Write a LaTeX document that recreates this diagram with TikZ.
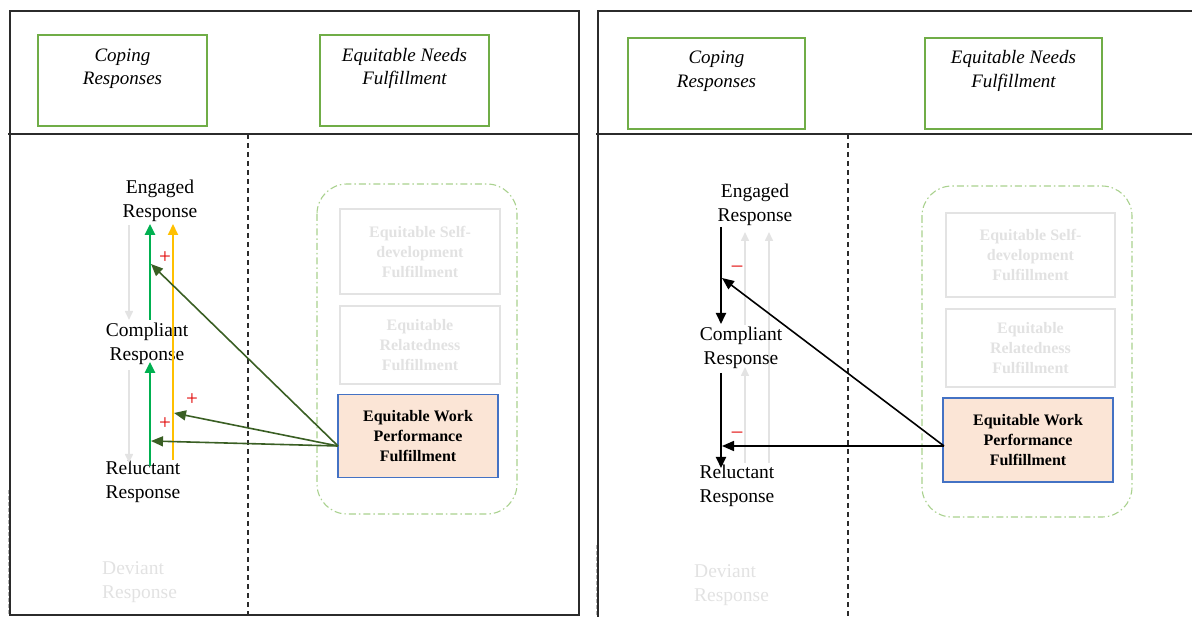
\documentclass[tikz,border=0pt]{standalone}
\usepackage{fontspec}
\setmainfont{Liberation Serif}
\usetikzlibrary{arrows.meta}

\definecolor{frameblk}{HTML}{2B2B2B}
\definecolor{hdrgreen}{HTML}{70AD47}
\definecolor{groupgreen}{HTML}{A9D18E}
\definecolor{boxgray}{HTML}{E3E3E3}
\definecolor{ghostgray}{HTML}{E2E2E2}
\definecolor{peach}{HTML}{FBE5D6}
\definecolor{workblue}{HTML}{4472C4}
\definecolor{brightgreen}{HTML}{00B050}
\definecolor{amber}{HTML}{FFC000}
\definecolor{darkgreen}{HTML}{3A5F24}
\definecolor{signred}{HTML}{E00000}

\tikzset{
  frame/.style={draw=frameblk, line width=1.3pt},
  divider/.style={draw=frameblk, line width=1.2pt, dash pattern=on 5pt off 4pt},
  hdrbox/.style={draw=hdrgreen, line width=1.3pt, minimum width=169pt, minimum height=91pt, inner sep=0pt},
  hdrtext/.style={font=\fontsize{19}{23.5}\selectfont\itshape, align=center, inner sep=0pt},
  resp/.style={font=\fontsize{19.5}{24}\selectfont, align=center, inner sep=0pt},
  ghostresp/.style={font=\fontsize{19.5}{24}\selectfont, align=left, inner sep=0pt,
    anchor=west, text=ghostgray},
  group/.style={draw=groupgreen, line width=1.1pt, rounded corners=30pt,
    dash pattern=on 7pt off 3pt on 1.5pt off 3pt},
  needbox/.style={draw=boxgray, line width=1.1pt, minimum width=160pt, inner sep=0pt,
    font=\bfseries\fontsize{16}{20}\selectfont, text=ghostgray, align=center},
  workbox/.style={needbox, fill=peach, draw=workblue, line width=1.3pt, text=black},
  tip/.style={-{Triangle[length=11pt,width=10pt]}},
  greenarr/.style={tip, draw=brightgreen, line width=2.6pt},
  amberarr/.style={tip, draw=amber, line width=2pt},
  ghostarr/.style={-{Triangle[length=9pt,width=8pt]}, draw=boxgray, line width=1.6pt},
  blackarr/.style={tip, draw=black, line width=1.8pt},
  linkgreen/.style={-{Triangle[length=12pt,width=10pt]}, draw=darkgreen, line width=1.6pt},
  linkblack/.style={-{Triangle[length=12pt,width=10pt]}, draw=black, line width=1.6pt},
  sign/.style={text=signred, font=\fontsize{21}{21}\selectfont, inner sep=0pt},
}

\begin{document}
\begin{tikzpicture}[x=1pt, y=-1pt]
\useasboundingbox (0,0) rectangle (1192,617);

% ---------------- left panel ----------------
\draw[frame] (10,11) rectangle (579,615);
\draw[frame] (8,134) -- (579,134);
\draw[draw=gray!60, line width=1pt, dash pattern=on 4pt off 2pt] (8,490) -- (8,615);
\draw[divider] (248,134) -- (248,615);

\node[hdrbox] (copL) at (122.5,80.5) {};
\node[hdrtext] (copLt) at (122.5,68.5) {Coping\\Responses};
\node[hdrbox] (needL) at (404.5,80.5) {};
\node[hdrtext] (needLt) at (404.5,68.5) {Equitable Needs\\Fulfillment};

\draw[group] (317,184) rectangle (517,514);
\node[needbox, minimum height=85pt] (selfL) at (420,251.5) {Equitable Self-\\development\\Fulfillment};
\node[needbox, minimum height=78pt] (relaL) at (420,345) {Equitable\\Relatedness\\Fulfillment};
\node[workbox, minimum height=83pt] (workL) at (418,436) {Equitable Work\\Performance\\Fulfillment};

\node[resp] (engL) at (160,201) {Engaged\\Response};
\node[resp] (comL) at (147,344) {Compliant\\Response};
\node[resp] (relL) at (143,482) {Reluctant\\Response};
\node[ghostresp] (devL) at (102,582) {Deviant\\Response};

\coordinate (gA1) at (129,225); \coordinate (gA2) at (129,320);
\coordinate (gB1) at (129,370); \coordinate (gB2) at (129,463);
\draw[ghostarr] (gA1) -- (gA2);
\draw[ghostarr] (gB1) -- (gB2);

\coordinate (grA1) at (150,320); \coordinate (grA2) at (150,224);
\coordinate (grB1) at (150,466); \coordinate (grB2) at (150,362);
\draw[greenarr] (grA1) -- (grA2);
\draw[greenarr] (grB1) -- (grB2);
\coordinate (amb1) at (173,460); \coordinate (amb2) at (173,224);
\draw[amberarr] (amb1) -- (amb2);

\coordinate (wsL) at (338,446);
\coordinate (tL1) at (151,264);
\coordinate (tL2) at (174,413);
\coordinate (tL3) at (151,441);
\draw[linkgreen] (wsL) -- (tL1);
\draw[linkgreen] (wsL) -- (tL2);
\draw[linkgreen] (wsL) -- (tL3);

\node[sign] (pL1) at (165,258) {+};
\node[sign] (pL2) at (192,400) {+};
\node[sign] (pL3) at (165,424) {+};

% ---------------- right panel ----------------
\draw[frame] (598,617) -- (598,11) -- (1192,11);
\draw[frame] (596,134) -- (1192,134);
\draw[draw=gray!60, line width=1pt, dash pattern=on 4pt off 2pt] (596,545) -- (596,617);
\draw[divider] (848,134) -- (848,617);

\node[hdrbox, minimum width=177pt] (copR) at (716.5,83.5) {};
\node[hdrtext] (copRt) at (716.5,71) {Coping\\Responses};
\node[hdrbox, minimum width=177pt] (needR) at (1013.5,83.5) {};
\node[hdrtext] (needRt) at (1013.5,71) {Equitable Needs\\Fulfillment};

\draw[group] (922,186) rectangle (1132,517);
\node[needbox, minimum width=169pt, minimum height=84pt] (selfR) at (1030.5,255) {Equitable Self-\\development\\Fulfillment};
\node[needbox, minimum width=169pt, minimum height=78pt] (relaR) at (1030.5,348) {Equitable\\Relatedness\\Fulfillment};
\node[workbox, minimum width=170pt, minimum height=84pt] (workR) at (1028,440) {Equitable Work\\Performance\\Fulfillment};

\coordinate (hA1) at (745,325); \coordinate (hA2) at (745,232);
\coordinate (hB1) at (745,463); \coordinate (hB2) at (745,367);
\coordinate (hC1) at (769,463); \coordinate (hC2) at (769,232);
\draw[ghostarr] (hA1) -- (hA2);
\draw[ghostarr] (hB1) -- (hB2);
\draw[ghostarr] (hC1) -- (hC2);

\node[resp] (engR) at (755,205) {Engaged\\Response};
\node[resp] (comR) at (741,348) {Compliant\\Response};
\node[resp] (relR) at (737,486) {Reluctant\\Response};
\node[ghostresp] (devR) at (694,585) {Deviant\\Response};

\coordinate (kA1) at (721,227); \coordinate (kA2) at (721,324);
\coordinate (kB1) at (721,373); \coordinate (kB2) at (721,468);
\draw[blackarr] (kA1) -- (kA2);
\draw[blackarr] (kB1) -- (kB2);

\coordinate (wsR) at (944,446);
\coordinate (tR1) at (722,278);
\coordinate (tR2) at (722,446);
\draw[linkblack] (wsR) -- (tR1);
\draw[linkblack] (wsR) -- (tR2);

\node[sign] (mR1) at (737,269) {\textendash};
\node[sign] (mR2) at (737,435) {\textendash};
\end{tikzpicture}
\end{document}
